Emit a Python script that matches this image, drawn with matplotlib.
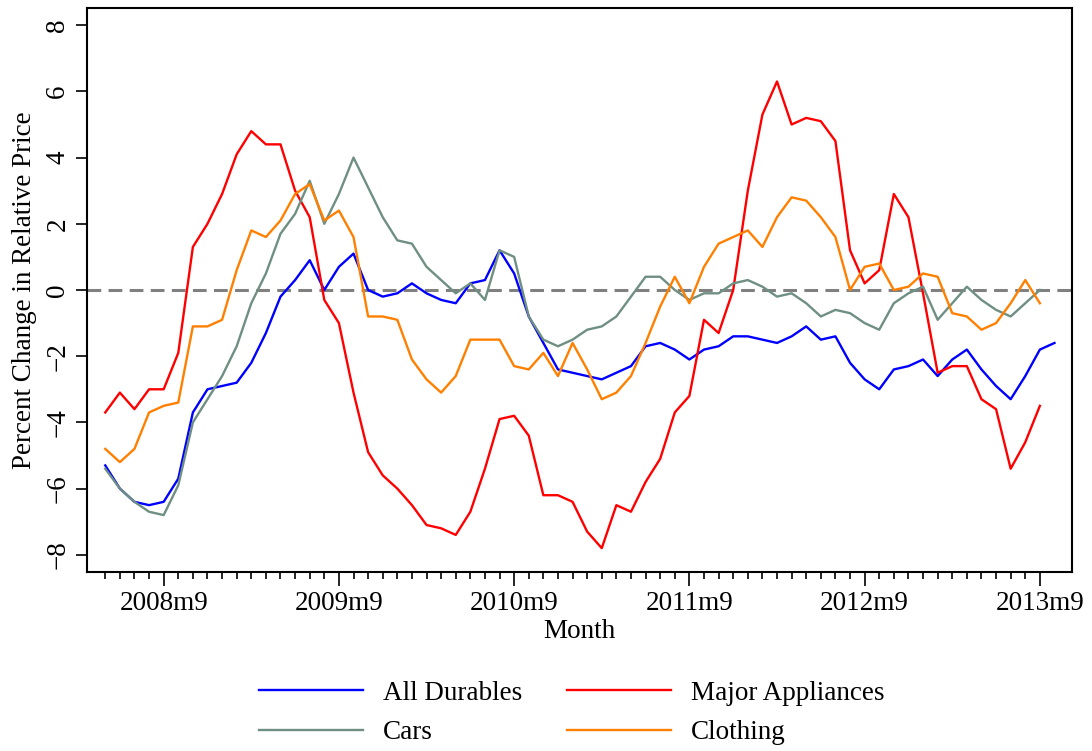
import matplotlib
matplotlib.use("Agg")
import matplotlib.pyplot as plt
import numpy as np

# months since 2008m5
start_year, start_month = 2008, 5

all_durables = [-5.3, -6.0, -6.4, -6.5, -6.4, -5.7, -3.7, -3.0, -2.9, -2.8,
                -2.2, -1.3, -0.2, 0.3, 0.9, 0.0, 0.7, 1.1, 0.0, -0.2,
                -0.1, 0.2, -0.1, -0.3, -0.4, 0.2, 0.3, 1.2, 0.5, -0.8,
                -1.6, -2.4, -2.5, -2.6, -2.7, -2.5, -2.3, -1.7, -1.6, -1.8,
                -2.1, -1.8, -1.7, -1.4, -1.4, -1.5, -1.6, -1.4, -1.1, -1.5,
                -1.4, -2.2, -2.7, -3.0, -2.4, -2.3, -2.1, -2.6, -2.1, -1.8,
                -2.4, -2.9, -3.3, -2.6, -1.8, -1.6]
major_appliances = [-3.7, -3.1, -3.6, -3.0, -3.0, -1.9, 1.3, 2.0, 2.9, 4.1,
                    4.8, 4.4, 4.4, 3.0, 2.2, -0.3, -1.0, -3.1, -4.9, -5.6,
                    -6.0, -6.5, -7.1, -7.2, -7.4, -6.7, -5.4, -3.9, -3.8, -4.4,
                    -6.2, -6.2, -6.4, -7.3, -7.8, -6.5, -6.7, -5.8, -5.1, -3.7,
                    -3.2, -0.9, -1.3, 0.0, 3.0, 5.3, 6.3, 5.0, 5.2, 5.1,
                    4.5, 1.2, 0.2, 0.6, 2.9, 2.2, -0.1, -2.5, -2.3, -2.3,
                    -3.3, -3.6, -5.4, -4.6, -3.5]
cars = [-5.4, -6.0, -6.4, -6.7, -6.8, -5.9, -4.0, -3.3, -2.6, -1.7,
        -0.4, 0.5, 1.7, 2.3, 3.3, 2.0, 2.9, 4.0, 3.1, 2.2,
        1.5, 1.4, 0.7, 0.3, -0.1, 0.2, -0.3, 1.2, 1.0, -0.8,
        -1.5, -1.7, -1.5, -1.2, -1.1, -0.8, -0.2, 0.4, 0.4, 0.0,
        -0.3, -0.1, -0.1, 0.2, 0.3, 0.1, -0.2, -0.1, -0.4, -0.8,
        -0.6, -0.7, -1.0, -1.2, -0.4, -0.1, 0.1, -0.9, -0.4, 0.1,
        -0.3, -0.6, -0.8, -0.4, 0.0]
clothing = [-4.8, -5.2, -4.8, -3.7, -3.5, -3.4, -1.1, -1.1, -0.9, 0.6,
            1.8, 1.6, 2.1, 2.9, 3.2, 2.1, 2.4, 1.6, -0.8, -0.8,
            -0.9, -2.1, -2.7, -3.1, -2.6, -1.5, -1.5, -1.5, -2.3, -2.4,
            -1.9, -2.6, -1.6, -2.4, -3.3, -3.1, -2.6, -1.6, -0.5, 0.4,
            -0.4, 0.7, 1.4, 1.6, 1.8, 1.3, 2.2, 2.8, 2.7, 2.2,
            1.6, 0.0, 0.7, 0.8, 0.0, 0.1, 0.5, 0.4, -0.7, -0.8,
            -1.2, -1.0, -0.4, 0.3, -0.4]

tick_labels = ["2008m9", "2009m9", "2010m9", "2011m9", "2012m9", "2013m9"]
y_ticks = [-8, -6, -4, -2, 0, 2, 4, 6, 8]

plt.rcParams['font.family'] = ['Liberation Serif', 'DejaVu Serif']

fig = plt.figure(figsize=(10.92, 7.51), dpi=100)
ax = fig.add_axes([87/1092, 1 - 572/751, (1072-87)/1092, (572-8)/751])

x_dur = np.arange(len(all_durables))
x_app = np.arange(len(major_appliances))
x_car = np.arange(len(cars))
x_clo = np.arange(len(clothing))

ax.axhline(0, color='#808080', lw=2.2, linestyle=(0, (4.5, 2.4)), zorder=1)
lw = 1.7
l1, = ax.plot(x_dur, all_durables, color='#0000ff', lw=lw, label='All Durables', zorder=3)
l2, = ax.plot(x_app, major_appliances, color='#ff0000', lw=lw, label='Major Appliances', zorder=3)
l3, = ax.plot(x_car, cars, color='#6f8f82', lw=lw, label='Cars', zorder=3)
l4, = ax.plot(x_clo, clothing, color='#ff8000', lw=lw, label='Clothing', zorder=3)

def month_index(label):
    y, m = label.split('m')
    return (int(y) - start_year) * 12 + (int(m) - start_month)

major_pos = [month_index(t) for t in tick_labels]
ax.set_xticks(major_pos)
ax.set_xticklabels(tick_labels, fontsize=19.5)
ax.set_xticks(np.arange(0, major_pos[-1] + 1), minor=True)
ax.set_xlim(-1.25, 66.2)
ax.set_ylim(-8.52, 8.52)
ax.set_yticks(y_ticks)
ax.set_yticklabels([f"\u2212{abs(v)}" if v < 0 else str(v) for v in y_ticks],
                   fontsize=19.5, rotation=90, va='center')

ax.tick_params(axis='x', which='major', length=10, width=1.2, pad=4)
ax.tick_params(axis='x', which='minor', length=5, width=1.2)
ax.tick_params(axis='y', which='major', length=8, width=1.2, pad=4)
for s in ax.spines.values():
    s.set_linewidth(1.5)

ax.set_xlabel("Month", fontsize=19.5, labelpad=2)
ax.set_ylabel("Percent Change in Relative Price", fontsize=19.5, labelpad=6)

# column-wise fill: col1 = All Durables, Cars; col2 = Major Appliances, Clothing
fig.legend(handles=[l1, l3, l2, l4], loc='center', ncol=2,
           bbox_to_anchor=(0.5235, 1 - 713/751), frameon=False, fontsize=19.5,
           handlelength=3.85, columnspacing=1.65, handletextpad=0.72,
           labelspacing=0.52)

fig.savefig("out.png", dpi=100)
